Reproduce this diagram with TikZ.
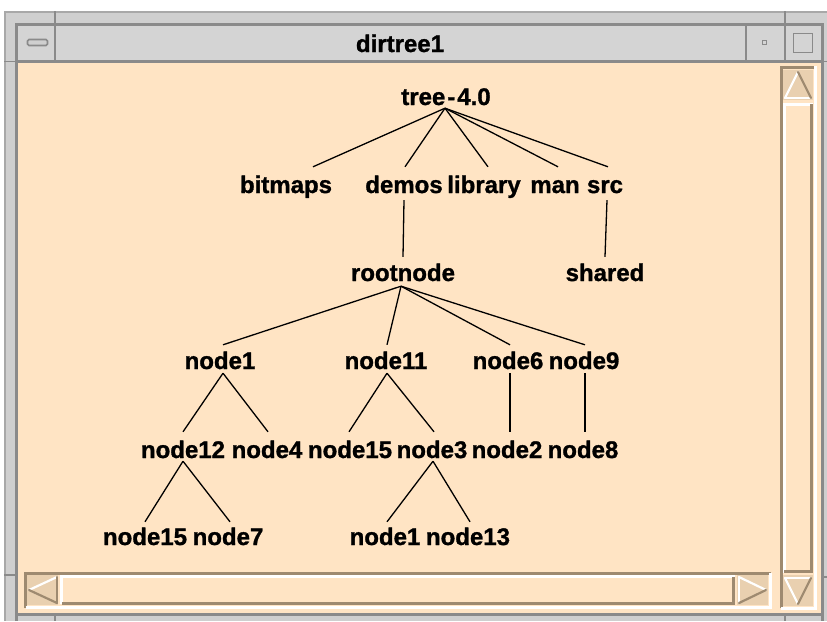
\documentclass[tikz,border=0pt]{standalone}
\usepackage{fontspec}
\setmainfont{Liberation Sans}
\newfontfamily\screenbold[FakeBold=1.2]{Liberation Sans Bold}
\definecolor{bisque}{HTML}{FFE4C4}
\definecolor{tanshadow}{HTML}{9E8A70}
\definecolor{boxfill}{HTML}{E9D0B0}
\definecolor{titlegray}{HTML}{D4D4D4}
\definecolor{framegray}{HTML}{CFCFCF}
\definecolor{edgegray}{HTML}{8A8A8A}
\definecolor{outergray}{HTML}{A8A8A8}
\begin{document}
\begin{tikzpicture}[x=1pt,y=-1pt,
  lbl/.style={font=\fontsize{24}{24}\screenbold, inner sep=0pt,
              anchor=base, text height=17pt, text depth=0pt},
  link/.style={line width=1.3pt, black},
  darkline/.style={draw=edgegray, line width=2.5pt},
  notch/.style={draw=edgegray, line width=1.6pt},
  lit/.style={draw=white, line width=3pt},
  shade/.style={draw=tanshadow, line width=3pt},
  litthin/.style={draw=white, line width=2.2pt, line cap=round},
  shadethin/.style={draw=tanshadow, line width=2.2pt, line cap=round}]
\useasboundingbox (0,0) rectangle (827,621);
\fill[white] (0,0) rectangle (827,621);

% ---- window frame ----
\fill[framegray] (4,11) rectangle (827,621);
\draw[outergray, line width=2.5pt] (5.2,621) -- (5.2,12.2) -- (827,12.2);
\fill[titlegray] (17,24) rectangle (822,61);
\fill[bisque] (17,61) rectangle (822,614);
\draw[darkline] (16.5,621) -- (16.5,24.5) -- (822.5,24.5) -- (822.5,621);
\draw[darkline] (16.5,614.5) -- (822.5,614.5);
\draw[darkline] (16.5,61.5) -- (822.5,61.5);
% resize corner notches
\draw[notch] (55,11) -- (55,24);
\draw[notch] (785,11) -- (785,24);
\draw[notch] (4,61.5) -- (17,61.5);
\draw[notch] (4,575) -- (17,575);
\draw[notch] (55,614) -- (55,621);
\draw[notch] (785,614) -- (785,621);
\draw[notch] (822,61.5) -- (827,61.5);
\draw[notch] (822,577) -- (827,577);

% ---- title bar ----
\draw[darkline] (55,24) -- (55,61);
\draw[darkline] (746,24) -- (746,61);
\draw[darkline] (785,24) -- (785,61);
\draw[draw=edgegray, fill=framegray, line width=1.6pt, rounded corners=1.5pt]
  (27.5,39.5) rectangle (47.5,45.5);
\draw[draw=edgegray, line width=1.4pt] (762.5,40.5) rectangle (766.5,44.5);
\draw[draw=edgegray, line width=1.8pt] (793.5,33.5) rectangle (812.5,52.5);
\node[font=\fontsize{24}{24}\screenbold, inner sep=0pt, anchor=base]
  (title) at (400,52) {dirtree1};

% ---- vertical scrollbar ----
\draw[shade] (781,608) -- (781,67.5) -- (816,67.5);
\draw[lit] (781,608.5) -- (815.5,608.5) -- (815.5,66);
\fill[boxfill] (783,70) rectangle (813,100);
\draw[litthin] (785,98) -- (798,72);
\draw[litthin] (785,98) -- (811,98);
\draw[shadethin] (798,72) -- (811,98);
\fill[bisque] (783,103) rectangle (813,573);
\draw[lit] (784.5,573) -- (784.5,104.5) -- (813,104.5);
\draw[shade] (784,571.5) -- (811.5,571.5) -- (811.5,104);
\fill[boxfill] (783,575) rectangle (813,606);
\draw[litthin] (785,578) -- (811,578);
\draw[litthin] (785,578) -- (798,604);
\draw[shadethin] (811,578) -- (798,604);

% ---- horizontal scrollbar ----
\draw[shade] (25,608) -- (25,573) -- (771,573);
\draw[lit] (25.5,607.5) -- (770.5,607.5) -- (770.5,573);
\fill[boxfill] (27,575) rectangle (58,605);
\draw[litthin] (29,590) -- (57,577);
\draw[shadethin] (29,590) -- (57,603);
\draw[shadethin] (57,577) -- (57,603);
\fill[bisque] (60,575) rectangle (735,605);
\draw[lit] (61.5,604) -- (61.5,576.5) -- (735,576.5);
\draw[shade] (62,603) -- (733.5,603) -- (733.5,577);
\fill[boxfill] (737,575) rectangle (768,605);
\draw[litthin] (739,577) -- (739,603);
\draw[litthin] (739,577) -- (766,590);
\draw[shadethin] (739,603) -- (766,590);

% ---- directory tree ----
\node[lbl] (tree) at (446,105) {tree\kern2pt-\kern2pt4.0};

\node[lbl] (bitmaps) at (286,193) {bitmaps};
\node[lbl] (demos)   at (404,193) {demos};
\node[lbl] (library) at (484,193) {library};
\node[lbl] (man)     at (555,193) {man};
\node[lbl] (src)     at (605,193) {src};

\node[lbl] (rootnode) at (403,281) {rootnode};
\node[lbl] (shared)   at (605,281) {shared};

\node[lbl] (nodeA1)  at (220,369) {node1};
\node[lbl] (node11)  at (386,369) {node11};
\node[lbl] (node6)   at (508,369) {node6};
\node[lbl] (node9)   at (584,369) {node9};

\node[lbl] (node12)  at (183,458) {node12};
\node[lbl] (node4)   at (267,458) {node4};
\node[lbl] (nodeA15) at (350,458) {node15};
\node[lbl] (node3)   at (432,458) {node3};
\node[lbl] (node2)   at (507,458) {node2};
\node[lbl] (node8)   at (583,458) {node8};

\node[lbl] (nodeB15) at (145,545) {node15};
\node[lbl] (node7)   at (228,545) {node7};
\node[lbl] (nodeB1)  at (385,545) {node1};
\node[lbl] (node13)  at (468,545) {node13};

% connectors: from just below a parent to just above each child
\draw[link] ([xshift=-1pt,yshift=-3pt]tree.south) -- ([xshift=27pt,yshift=9pt]bitmaps.north);
\foreach \c/\dx in {demos/1, library/4, man/3, src/3}
  \draw[link] ([xshift=-1pt,yshift=-3pt]tree.south) -- ([xshift=\dx pt,yshift=9pt]\c.north);
\draw[link] ([yshift=-7pt]demos.south) -- ([yshift=7pt]rootnode.north);
\draw[link] ([xshift=2pt,yshift=-7pt]src.south) -- ([yshift=7pt]shared.north);
\foreach \c/\dx in {nodeA1/3, node11/1, node6/2, node9/1}
  \draw[link] ([xshift=-2pt,yshift=-5pt]rootnode.south) -- ([xshift=\dx pt,yshift=7pt]\c.north);
\draw[link] ([xshift=3pt,yshift=-4pt]nodeA1.south) -- ([yshift=9pt]node12.north);
\draw[link] ([xshift=3pt,yshift=-4pt]nodeA1.south) -- ([xshift=1pt,yshift=9pt]node4.north);
\draw[link] ([xshift=1pt,yshift=-4pt]node11.south) -- ([xshift=-1pt,yshift=9pt]nodeA15.north);
\draw[link] ([xshift=1pt,yshift=-4pt]node11.south) -- ([xshift=2pt,yshift=9pt]node3.north);
\draw[link] ([xshift=2pt,yshift=-4pt]node6.south) -- ([xshift=3pt,yshift=9pt]node2.north);
\draw[link] ([xshift=1pt,yshift=-4pt]node9.south) -- ([xshift=2pt,yshift=9pt]node8.north);
\draw[link] ([yshift=-3pt]node12.south) -- ([yshift=6pt]nodeB15.north);
\draw[link] ([yshift=-3pt]node12.south) -- ([xshift=2pt,yshift=6pt]node7.north);
\draw[link] ([xshift=1pt,yshift=-3pt]node3.south) -- ([xshift=2pt,yshift=6pt]nodeB1.north);
\draw[link] ([xshift=1pt,yshift=-3pt]node3.south) -- ([xshift=2pt,yshift=6pt]node13.north);
\end{tikzpicture}
\end{document}
